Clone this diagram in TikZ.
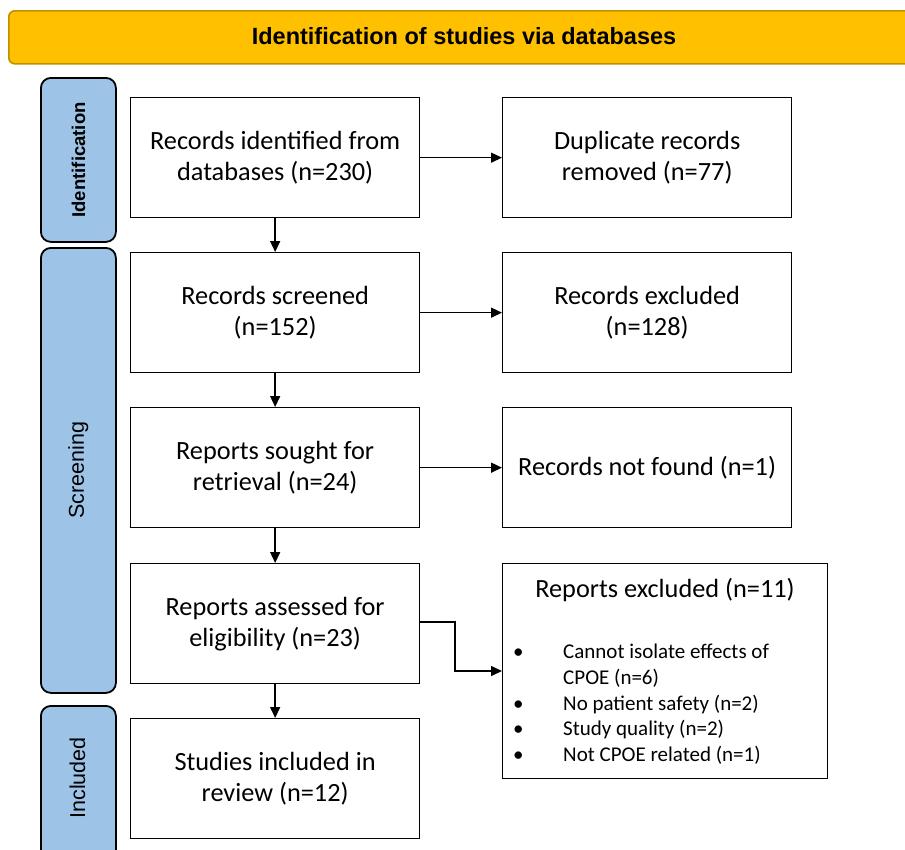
\documentclass[tikz,border=0pt]{standalone}
\usepackage{fontspec}
\setmainfont{Carlito}
\newfontfamily\arialf{Liberation Sans}
\usetikzlibrary{arrows.meta}
\begin{document}
\begin{tikzpicture}[x=1pt,y=-1pt,
  box/.style={draw=black, line width=1.3pt, fill=white, minimum width=289pt, minimum height=120pt, align=center, font=\fontsize{26.3}{31}\selectfont, anchor=north west},
  sidebox/.style={draw=black, line width=1.8pt, fill=sideblue, rounded corners=10pt, minimum width=75pt, anchor=north west},
  arr/.style={-{Triangle[length=11pt,width=10pt]}, line width=1.5pt}
]
\definecolor{gold}{HTML}{FFC000}
\definecolor{golddark}{HTML}{BF9000}
\definecolor{sideblue}{HTML}{9DC3E6}
\useasboundingbox (0,0) rectangle (905,849);
% header
\node[draw=golddark, line width=1.6pt, fill=gold, rounded corners=6pt, minimum width=930pt, minimum height=53pt, anchor=north west] (hdr) at (8,10) {};
\node[font=\arialf\bfseries\fontsize{23.5}{26}\selectfont] (hdrtext) at (464,36) {Identification of studies via databases};
% side labels
\node[sidebox, minimum height=164pt] (sid) at (40,77) {};
\node[rotate=90, font=\arialf\bfseries\fontsize{18.5}{20}\selectfont] (sidt) at (sid.center) {Identification};
\node[sidebox, minimum height=445pt] (sscr) at (40,247) {};
\node[rotate=90, font=\arialf\fontsize{21.5}{24}\selectfont] (sscrt) at (sscr.center) {Screening};
\node[sidebox, minimum height=160pt] (sinc) at (40,705) {};
\node[rotate=90, font=\arialf\fontsize{21.5}{24}\selectfont] (sinct) at (77.5,778) {Included};
% left column
\node[box] (b1) at (130,97) {Records identified from\\databases (n=230)};
\node[box] (b2) at (130,252) {Records screened\\(n=152)};
\node[box] (b3) at (130,407) {Reports sought for\\retrieval (n=24)};
\node[box] (b4) at (130,563) {Reports assessed for\\eligibility (n=23)};
\node[box] (b5) at (130,718) {Studies included in\\review (n=12)};
% right column
\node[box] (r1) at (502,97) {Duplicate records\\removed (n=77)};
\node[box] (r2) at (502,252) {Records excluded\\(n=128)};
\node[box] (r3) at (502,407) {Records not found (n=1)};
\node[draw=black, line width=1.3pt, fill=white, minimum width=325pt, minimum height=215pt, anchor=north west] (r4) at (502,563) {};
\node[font=\fontsize{26.3}{30}\selectfont] (r4t) at (665,590) {Reports excluded (n=11)};
\node[anchor=north west, align=left, font=\fontsize{21}{25.7}\selectfont, inner sep=0pt] (r4l) at (513,644) {%
\makebox[50pt][l]{\textbullet}Cannot isolate effects of\\
\makebox[50pt][l]{}CPOE (n=6)\\
\makebox[50pt][l]{\textbullet}No patient safety (n=2)\\
\makebox[50pt][l]{\textbullet}Study quality (n=2)\\
\makebox[50pt][l]{\textbullet}Not CPOE related (n=1)};
% arrows
\draw[arr] (b1) -- (r1);
\draw[arr] (b2) -- (r2);
\draw[arr] (b3) -- (r3);
\draw[arr] (b1) -- (b2);
\draw[arr] (b2) -- (b3);
\draw[arr] (b3) -- (b4);
\draw[arr] (b4) -- (b5);
\coordinate (k1) at (455,622);
\coordinate (k2) at (455,671);
\draw[arr] (b4.east |- k1) -- (k1) -- (k2) -- (r4.west |- k2);
\end{tikzpicture}
\end{document}
